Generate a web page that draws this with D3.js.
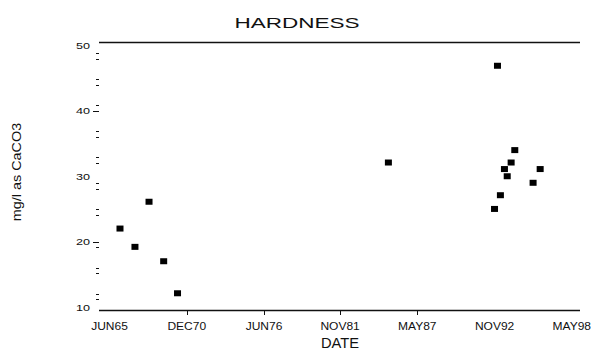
<!DOCTYPE html>
<html><head><meta charset="utf-8">
<script src="https://cdn.jsdelivr.net/npm/d3@7"></script>
<style>body{margin:0;background:#fff}svg{display:block}text{font-family:"Liberation Sans",Arial,sans-serif;fill:#111}</style>
</head><body><svg id="c" width="594" height="352"></svg>
<script>
const title = "HARDNESS";
const xLabel = "DATE";
const yLabel = "mg/l as CaCO3";
const dates = ["1966-03-01","1967-03-25","1968-03-25","1969-04-10","1970-04-05","1985-04-10",
  "1993-01-15","1994-04-10","1994-01-05","1993-07-15","1996-01-30","1993-09-25","1995-07-30","1993-04-01","1992-10-30"];
const hardness = [22.0,19.2,26.1,17.0,12.1,32.1,46.9,34.0,32.1,31.1,31.1,30.0,29.0,27.1,25.0];
const xTickDates = ["1965-06-01","1970-12-01","1976-06-01","1981-11-01","1987-05-01","1992-11-01","1998-05-01"];
const xTickLabels = ["JUN65","DEC70","JUN76","NOV81","MAY87","NOV92","MAY98"];
const yTicks = [10,20,30,40,50];
const yMajorMarks = [20,40];
const yMinor = [12,16,20,24,28,32,36,40,44,48];
const xDomain = ["1964-09-01","1998-12-01"];

const parse = d3.utcParse("%Y-%m-%d");
const svg = d3.select("#c");
const x = d3.scaleUtc().domain(xDomain.map(parse)).range([99,580]);
const y = d3.scaleLinear().domain([10,50]).range([307,45.5]);
const frameTop = 42, frameBottom = 310;

function stretch(sel, f){ sel.each(function(){ const w=this.getComputedTextLength(); d3.select(this).attr("textLength", w*f).attr("lengthAdjust","spacingAndGlyphs"); }); }

// frame lines
svg.append("line").attr("x1",99).attr("x2",580).attr("y1",frameTop+0.5).attr("y2",frameTop+0.5).attr("stroke","#111").attr("stroke-width",1.3);
svg.append("line").attr("x1",99).attr("x2",580).attr("y1",frameBottom+0.5).attr("y2",frameBottom+0.5).attr("stroke","#111").attr("stroke-width",1.3);

// x ticks
const xt = svg.append("g");
xt.selectAll("line").data(xTickDates.slice(1,5)).join("line")
  .attr("x1",d=>Math.round(x(parse(d)))+0.5).attr("x2",d=>Math.round(x(parse(d)))+0.5)
  .attr("y1",310).attr("y2",315).attr("stroke","#111");
xt.selectAll("text").data(xTickDates).join("text")
  .attr("x",d=>x(parse(d))).attr("y",330).attr("text-anchor","middle").attr("font-size",10)
  .text((d,i)=>xTickLabels[i]).call(stretch,1.2);

// y ticks
const yt = svg.append("g");
yt.selectAll("text").data(yTicks).join("text")
  .attr("x",90).attr("y",d=>y(d)+3.5).attr("text-anchor","end").attr("font-size",9)
  .text(d=>d).call(stretch,1.4);
yt.selectAll("line.maj").data(yMajorMarks).join("line").attr("class","maj")
  .attr("x1",93).attr("x2",99).attr("y1",d=>Math.round(y(d))+0.5).attr("y2",d=>Math.round(y(d))+0.5).attr("stroke","#111");
yMinor.forEach(v=>{
  const offs = v > 20 ? [-6,0] : [0,5];
  offs.forEach(o=>{
    yt.append("line").attr("x1",96).attr("x2",99).attr("y1",Math.round(y(v))+o+0.5).attr("y2",Math.round(y(v))+o+0.5).attr("stroke","#111");
  });
});

// points
svg.append("g").selectAll("rect").data(dates.map((d,i)=>({d:parse(d),v:hardness[i]}))).join("rect")
  .attr("x",p=>x(p.d)-3.5).attr("y",p=>y(p.v)-3).attr("width",7).attr("height",6).attr("fill","#000");

// titles
svg.append("text").attr("x",297).attr("y",28).attr("text-anchor","middle").attr("font-size",15).text(title).call(stretch,1.5);
svg.append("text").attr("x",340).attr("y",348).attr("text-anchor","middle").attr("font-size",14).text(xLabel).call(stretch,1.05);
svg.append("text").attr("transform","translate(21,172) rotate(-90)").attr("text-anchor","middle").attr("font-size",12).text(yLabel).call(stretch,1.2);
</script></body></html>
